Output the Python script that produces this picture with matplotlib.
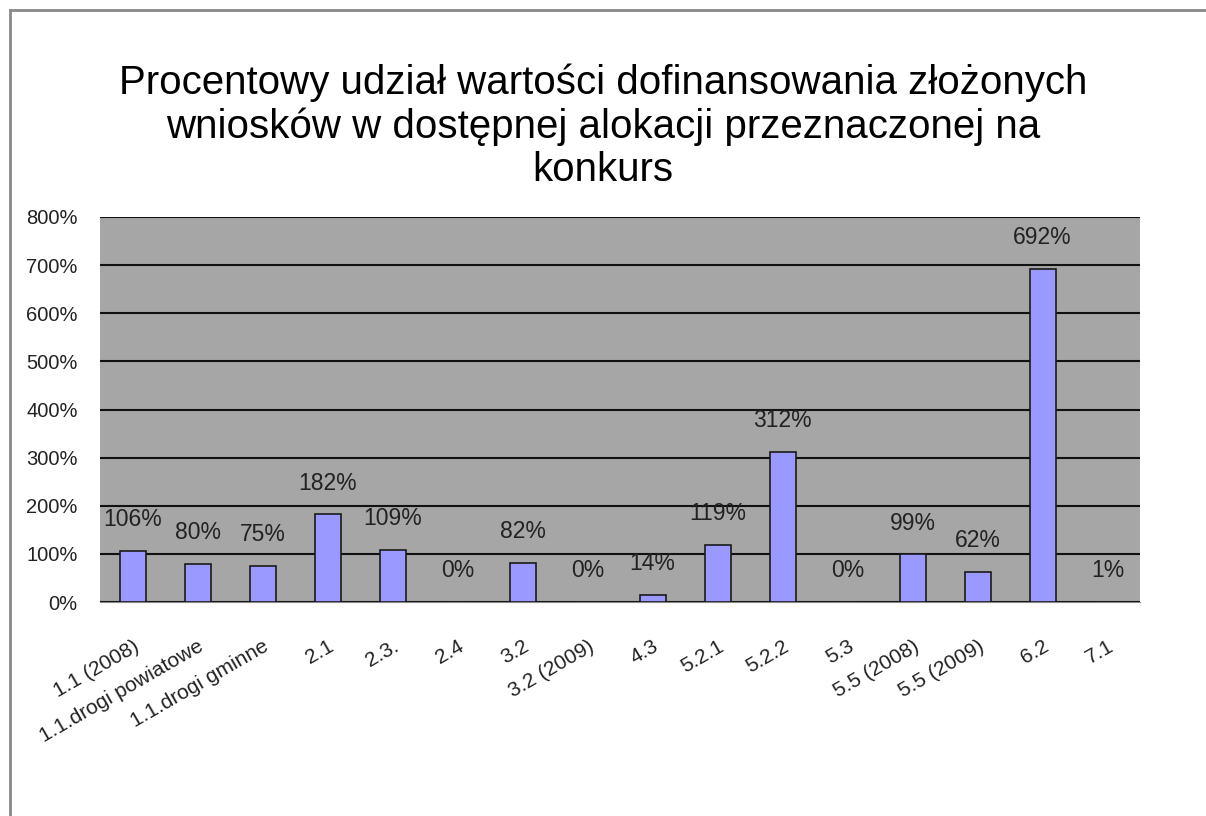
import numpy as np
import matplotlib
matplotlib.use("Agg")
import matplotlib.pyplot as plt
from matplotlib.patches import Rectangle

plt.rcParams['font.family'] = ['Liberation Sans', 'DejaVu Sans']

kategorie = ["1.1 (2008)", "1.1.drogi powiatowe", "1.1.drogi gminne", "2.1", "2.3.", "2.4",
             "3.2", "3.2 (2009)", "4.3", "5.2.1", "5.2.2", "5.3", "5.5 (2008)", "5.5 (2009)",
             "6.2", "7.1"]
udzial = [106, 80, 75, 182, 109, 0, 82, 0, 14, 119, 312, 0, 99, 62, 692, 1]  # w %
y_ticks = [0, 100, 200, 300, 400, 500, 600, 700, 800]

fig = plt.figure(figsize=(12.06, 8.16), dpi=100)
ax = fig.add_axes([100 / 1206, 1 - 602 / 816, 1040 / 1206, 385 / 816])

# ramka całego wykresu
fig.patches.append(Rectangle((10 / 1206, -0.1), 1.2, 1 - 10 / 816 + 0.1, transform=fig.transFigure,
                             fill=False, edgecolor="#888888", linewidth=2))

x = np.arange(len(kategorie))
ax.set_facecolor("#A6A6A6")
ax.bar(x, udzial, width=0.4, color="#9999FF", edgecolor="#1a1a1a", linewidth=1.2, zorder=3)

for xi, v in zip(x, udzial):
    ax.text(xi, v + 65, f"{v}%", ha="center", va="center", fontsize=16.5, color="#222222", zorder=4)

ax.set_xlim(-0.5, len(kategorie) - 0.5)
ax.set_ylim(0, 800)
ax.set_yticks(y_ticks)
ax.set_yticklabels([f"{t}%" for t in y_ticks], fontsize=14.5, color="#222222")
ax.yaxis.grid(True, color="#111111", linewidth=1.5, zorder=1)
ax.set_axisbelow(True)
ax.tick_params(axis="y", length=0, pad=16)
ax.tick_params(axis="x", length=0, pad=25)
ax.set_xticks(x)
ax.set_xticklabels(kategorie, rotation=30, ha="right", rotation_mode="anchor",
                   fontsize=15, color="#222222")
for s in ["left", "right", "top"]:
    ax.spines[s].set_visible(False)
ax.spines["bottom"].set_color("#888888")

fig.text(0.5, 1 - 126 / 816,
         "Procentowy udział wartości dofinansowania złożonych\nwniosków w dostępnej alokacji przeznaczonej na\nkonkurs",
         ha="center", va="center", fontsize=29, linespacing=1.17)

fig.savefig("out.png", dpi=100, facecolor="white")
